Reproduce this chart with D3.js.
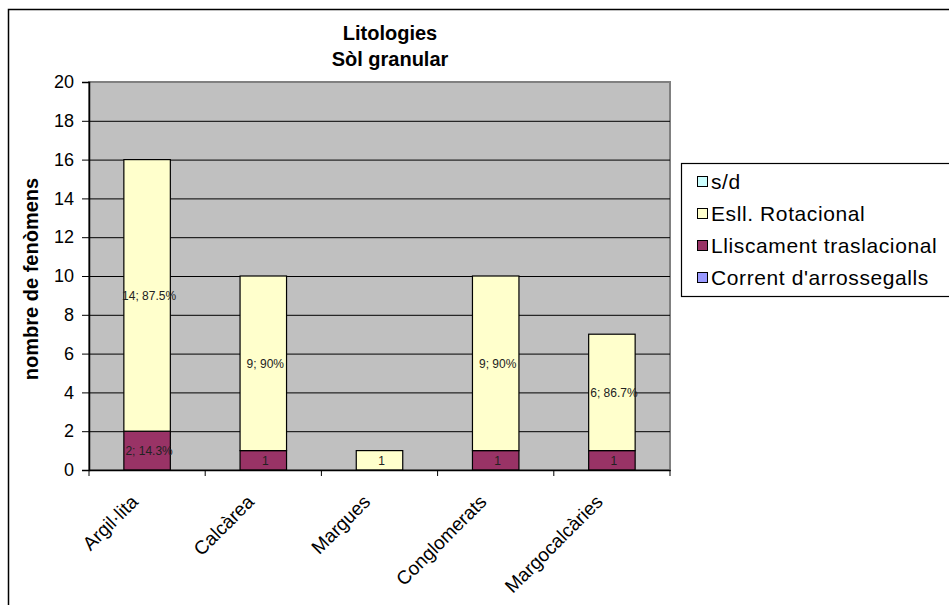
<!DOCTYPE html>
<html>
<head>
<meta charset="utf-8">
<script src="https://cdn.jsdelivr.net/npm/d3@7"></script>
<style>
  body { margin: 0; background: #fff; }
  svg { display: block; font-family: "Liberation Sans", Arial, sans-serif; }
</style>
</head>
<body>
<svg id="chart" width="949" height="605"></svg>
<script>
// categories and series (bottom to top of the stack)
var categories = ["Argil·lita", "Calcàrea", "Margues", "Conglomerats", "Margocalcàries"];
var seriesNames = ["Corrent d'arrossegalls", "Lliscament traslacional", "Esll. Rotacional", "s/d"];
var corrent     = [0, 0, 0, 0, 0];
var lliscament  = [2, 1, 0, 1, 1];
var rotacional  = [14, 9, 1, 9, 6];
var sd          = [0, 0, 0, 0, 0];
// data labels as they appear on the chart
var lliscamentLabels = ["2; 14.3%", "1", "", "1", "1"];
var rotacionalLabels = ["14; 87.5%", "9; 90%", "1", "9; 90%", "6; 86.7%"];
var yTicks = [0, 2, 4, 6, 8, 10, 12, 14, 16, 18, 20];

var colors = {
  "Corrent d'arrossegalls": "#9999ff",
  "Lliscament traslacional": "#993366",
  "Esll. Rotacional": "#ffffcc",
  "s/d": "#ccffff"
};

var svg = d3.select("#chart");
var margin = {left: 89, top: 82, right: 670, bottom: 470};

// outer chart frame (runs off the page on right/bottom)
svg.append("rect")
  .attr("x", 8.5).attr("y", 9.5)
  .attr("width", 960).attr("height", 620)
  .attr("fill", "#fff").attr("stroke", "#000").attr("stroke-width", 1.5);

var x = d3.scaleBand().domain(categories).range([margin.left, margin.right]).padding(0);
var y = d3.scaleLinear().domain([0, 20]).range([margin.bottom, margin.top]);
var barW = x.bandwidth() * 0.4;

// plot area
svg.append("rect")
  .attr("x", margin.left).attr("y", margin.top)
  .attr("width", margin.right - margin.left).attr("height", margin.bottom - margin.top)
  .attr("fill", "#c0c0c0").attr("stroke", "#808080").attr("stroke-width", 2);

// gridlines
svg.append("g").selectAll("line")
  .data(yTicks.filter(function (d) { return d > 0 && d < 20; }))
  .enter().append("line")
    .attr("x1", margin.left).attr("x2", margin.right)
    .attr("y1", function (d) { return y(d) + 0.5; })
    .attr("y2", function (d) { return y(d) + 0.5; })
    .attr("stroke", "#000").attr("stroke-width", 1);

// stacked bars
var rows = categories.map(function (c, i) {
  return {cat: c, "Corrent d'arrossegalls": corrent[i], "Lliscament traslacional": lliscament[i],
          "Esll. Rotacional": rotacional[i], "s/d": sd[i]};
});
var stack = d3.stack().keys(seriesNames)(rows);

svg.append("g").selectAll("g")
  .data(stack)
  .enter().append("g")
    .attr("fill", function (d) { return colors[d.key]; })
  .selectAll("rect")
  .data(function (d) { return d.filter(function (p) { return p[1] - p[0] > 0; }); })
  .enter().append("rect")
    .attr("x", function (d) { return x(d.data.cat) + (x.bandwidth() - barW) / 2; })
    .attr("y", function (d) { return y(d[1]); })
    .attr("width", barW)
    .attr("height", function (d) { return y(d[0]) - y(d[1]); })
    .attr("stroke", "#000").attr("stroke-width", 1.2);

// data labels
function addLabels(values, base, labels) {
  svg.append("g").selectAll("text")
    .data(categories)
    .enter().append("text")
      .attr("x", function (d) { return x(d) + x.bandwidth() / 2 + 2; })
      .attr("y", function (d, i) { return y(base[i] + values[i] / 2); })
      .attr("dy", "0.35em")
      .attr("text-anchor", "middle")
      .style("font-size", "12px")
      .style("fill", "#222")
      .text(function (d, i) { return labels[i]; });
}
addLabels(lliscament, corrent, lliscamentLabels);
addLabels(rotacional, lliscament.map(function (v, i) { return v + corrent[i]; }), rotacionalLabels);

// y axis
var yAxis = svg.append("g")
  .attr("transform", "translate(" + margin.left + ",0)")
  .call(d3.axisLeft(y).tickValues(yTicks).tickSize(7).tickPadding(8));
yAxis.select(".domain").attr("stroke", "#000").attr("stroke-width", 1.5);
yAxis.selectAll(".tick line").attr("stroke", "#000");
yAxis.selectAll("text").style("font-size", "18px").attr("fill", "#000").style("font-family", "Liberation Sans, Arial, sans-serif");

// x axis
var xAxis = svg.append("g")
  .attr("transform", "translate(0," + margin.bottom + ")")
  .call(d3.axisBottom(x).tickSize(0).tickFormat(""));
xAxis.select(".domain").attr("stroke", "#000").attr("stroke-width", 1.5);
svg.append("g").selectAll("line")
  .data(d3.range(categories.length + 1))
  .enter().append("line")
    .attr("x1", function (i) { return margin.left + i * x.step(); })
    .attr("x2", function (i) { return margin.left + i * x.step(); })
    .attr("y1", margin.bottom).attr("y2", margin.bottom + 6)
    .attr("stroke", "#000");

svg.append("g").selectAll("text")
  .data(categories)
  .enter().append("text")
    .attr("transform", function (d) {
      return "translate(" + (x(d) + x.bandwidth() / 2 - 8) + "," + (margin.bottom + 33) + ") rotate(-45)";
    })
    .attr("text-anchor", "end")
    .style("font-size", "19px")
    .text(function (d) { return d; });

// titles
svg.append("text")
  .attr("x", 390).attr("y", 40)
  .attr("text-anchor", "middle")
  .style("font-size", "20px").style("font-weight", "bold")
  .text("Litologies");
svg.append("text")
  .attr("x", 390).attr("y", 66)
  .attr("text-anchor", "middle")
  .style("font-size", "20px").style("font-weight", "bold")
  .text("Sòl granular");

svg.append("text")
  .attr("transform", "translate(38,279) rotate(-90)")
  .attr("text-anchor", "middle")
  .style("font-size", "20px").style("font-weight", "bold")
  .text("nombre de fenòmens");

// legend (top entry is s/d, reversed stack order)
var legend = svg.append("g");
legend.append("rect")
  .attr("x", 681.5).attr("y", 163.5)
  .attr("width", 280).attr("height", 133)
  .attr("fill", "#fff").attr("stroke", "#000").attr("stroke-width", 1.2);

var legendItems = seriesNames.slice().reverse();
var li = legend.selectAll("g.item")
  .data(legendItems)
  .enter().append("g")
    .attr("class", "item")
    .attr("transform", function (d, i) { return "translate(697," + (182 + i * 32) + ")"; });
li.append("rect")
  .attr("x", 0.5).attr("y", -5.5)
  .attr("width", 10).attr("height", 10)
  .attr("fill", function (d) { return colors[d]; })
  .attr("stroke", "#000").attr("stroke-width", 1);
li.append("text")
  .attr("x", 14).attr("dy", "0.35em")
  .style("font-size", "21px")
  .style("letter-spacing", "0.6px")
  .text(function (d) { return d; });
</script>
</body>
</html>
